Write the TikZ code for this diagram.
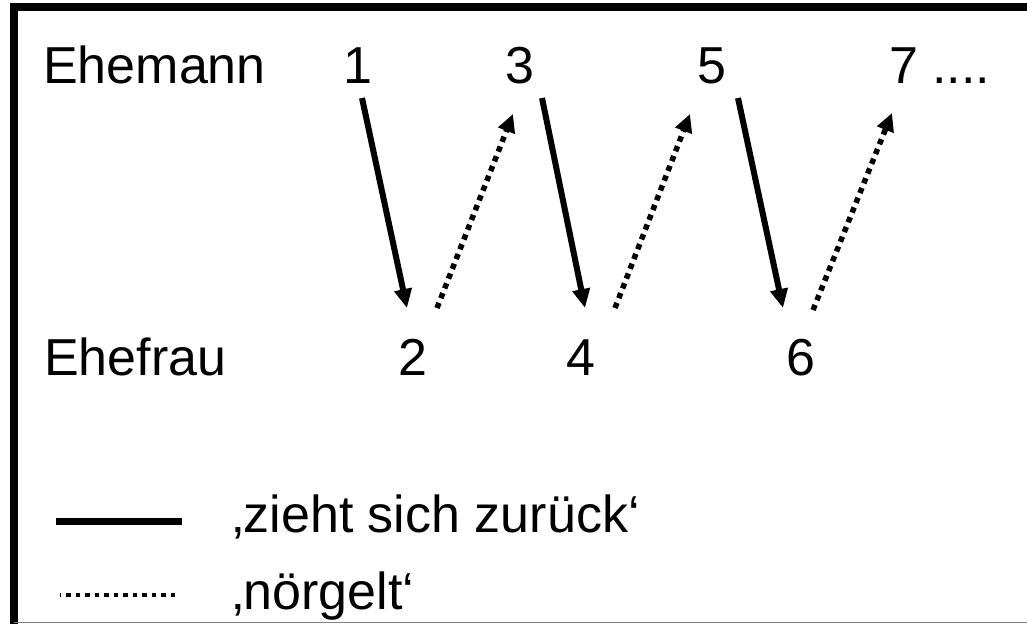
\documentclass[tikz,border=0pt]{standalone}
\usepackage{fontspec}
\setmainfont{Liberation Sans}
\usetikzlibrary{arrows.meta}
\begin{document}
\begin{tikzpicture}[x=1pt,y=-1pt,
  lbl/.style={inner sep=0pt,font=\fontsize{52pt}{62pt}\selectfont},
  retreat/.style={line width=6pt,-{Triangle[length=19pt,width=17pt]}},
  nag/.style={line width=5.5pt,dash pattern=on 5.5pt off 5pt,-{Triangle[length=18pt,width=17pt]}},
  frame/.style={line width=8pt}]
\useasboundingbox (0,0) rectangle (1027,624);
% frame
\draw[frame] (14,624) -- (14,7) -- (1027,7);
\draw[gray,line width=1.5pt] (14,622.5) -- (1027,622.5);
% labels
\node[lbl,anchor=base west] (man) at (43,83) {Ehemann};
\node[lbl,anchor=base west] (wife) at (44,375) {Ehefrau};
\node[lbl,anchor=base] (n1) at (358,83) {1};
\node[lbl,anchor=base] (n3) at (520,83) {3};
\node[lbl,anchor=base] (n5) at (712,83) {5};
\node[lbl,anchor=base west] (n7) at (889,83) {7 ....};
\node[lbl,anchor=base] (n2) at (413,375) {2};
\node[lbl,anchor=base] (n4) at (581,375) {4};
\node[lbl,anchor=base] (n6) at (801,375) {6};
% arrow end points
\coordinate (a1) at (362,98);  \coordinate (b2) at (407,308);
\coordinate (c2) at (437,308); \coordinate (d3) at (513,114);
\coordinate (a3) at (542,98);  \coordinate (b4) at (585,308);
\coordinate (c4) at (615,308); \coordinate (d5) at (690,114);
\coordinate (a5) at (738,98);  \coordinate (b6) at (783,308);
\coordinate (c6) at (813,310); \coordinate (d7) at (892,113);
\draw[retreat] (a1) -- (b2);
\draw[retreat] (a3) -- (b4);
\draw[retreat] (a5) -- (b6);
\draw[nag] (c2) -- (d3);
\draw[nag] (c4) -- (d5);
\draw[nag] (c6) -- (d7);
% legend
\coordinate (l1s) at (56,521.5); \coordinate (l1e) at (182,521.5);
\coordinate (l2s) at (60,595);   \coordinate (l2e) at (179,595);
\draw[line width=7pt] (l1s) -- (l1e);
\draw[line width=4.5pt,dash pattern=on 4.5pt off 5pt,dash phase=3.5pt] (l2s) -- (l2e);
\node[lbl,anchor=base west] (t1) at (232,532) {‚zieht sich zurück‘};
\node[lbl,anchor=base west] (t2) at (232,609) {‚nörgelt‘};
\end{tikzpicture}
\end{document}
